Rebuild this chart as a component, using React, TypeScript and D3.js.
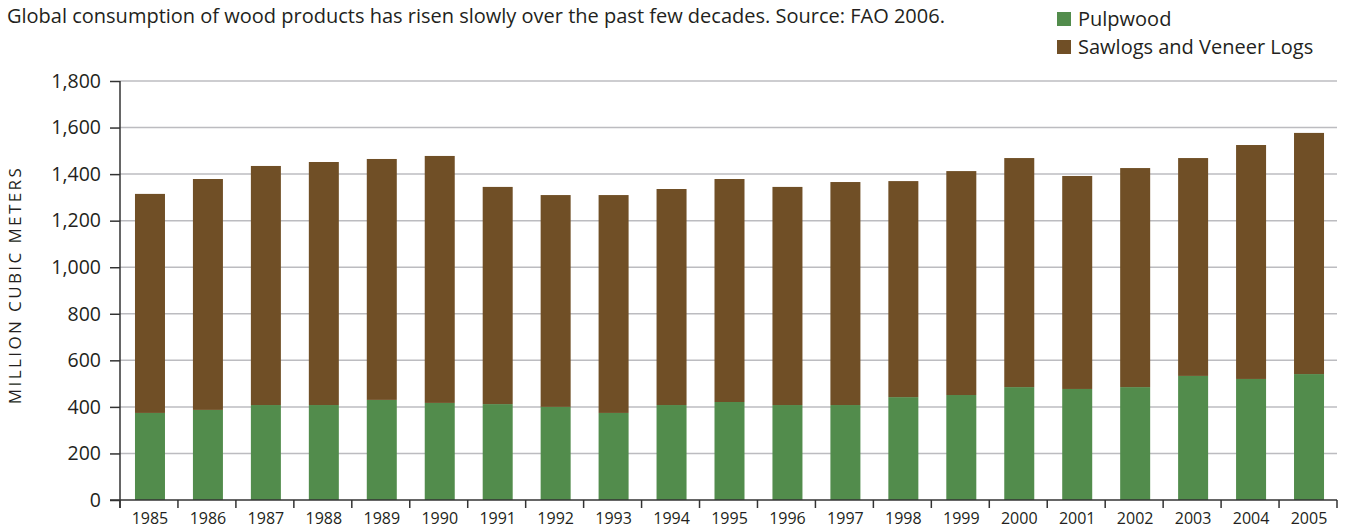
import React, { useEffect, useRef } from "react";
import * as d3 from "d3";

const years = [
  "1985", "1986", "1987", "1988", "1989", "1990", "1991", "1992", "1993", "1994", "1995",
  "1996", "1997", "1998", "1999", "2000", "2001", "2002", "2003", "2004", "2005",
];
const pulpwood = [374, 387, 408, 408, 430, 417, 412, 400, 374, 408, 421, 408, 408, 442, 451, 485, 477, 485, 533, 520, 541];
const sawlogs = [941, 992, 1027, 1044, 1035, 1061, 933, 910, 936, 928, 958, 937, 958, 928, 962, 984, 915, 941, 936, 1005, 1036];
const yTicks = [0, 200, 400, 600, 800, 1000, 1200, 1400, 1600, 1800];
const seriesNames = ["Pulpwood", "Sawlogs and Veneer Logs"];
const seriesColors = ["#528c4c", "#704f26"];

const FONT = "'Open Sans', 'Noto Sans', sans-serif";
const TEXT = "#231f20";

const App = () => {
  const chartRef = useRef<HTMLDivElement>(null);

  useEffect(() => {
    const W = 1346;
    const H = 529;
    const margin = { top: 81, right: 9, bottom: 29, left: 120 };
    const width = W - margin.left - margin.right;
    const height = H - margin.top - margin.bottom;

    d3.select(chartRef.current).selectAll("*").remove();
    const root = d3
      .select(chartRef.current)
      .append("svg")
      .attr("width", W)
      .attr("height", H)
      .style("font-family", FONT);

    // title
    root
      .append("text")
      .attr("x", 7)
      .attr("y", 23)
      .attr("font-size", 20)
      .attr("fill", TEXT)
      .text("Global consumption of wood products has risen slowly over the past few decades. Source: FAO 2006.");

    // legend
    const legend = root
      .selectAll(".legend")
      .data(seriesNames)
      .enter()
      .append("g")
      .attr("class", "legend")
      .attr("transform", (d, i) => `translate(1057, ${12 + i * 28})`);
    legend
      .append("rect")
      .attr("width", 14)
      .attr("height", 14)
      .style("fill", (d, i) => seriesColors[i]);
    legend
      .append("text")
      .attr("x", 21)
      .attr("y", 14)
      .attr("font-size", 20)
      .attr("fill", TEXT)
      .text((d) => d);

    const svg = root.append("g").attr("transform", `translate(${margin.left}, ${margin.top})`);

    const xScale = d3.scaleBand().domain(years).range([0, width]);
    const yScale = d3.scaleLinear().domain([0, 1800]).range([height, 0]);

    // grid
    svg
      .selectAll(".grid")
      .data(yTicks.filter((t) => t > 0))
      .enter()
      .append("line")
      .attr("class", "grid")
      .attr("x1", 0)
      .attr("x2", width)
      .attr("y1", (d) => yScale(d))
      .attr("y2", (d) => yScale(d))
      .style("stroke", "#bcbcc0")
      .style("stroke-width", 1.5);

    // stacked bars
    const table = years.map((y, i) => ({ year: y, pulp: pulpwood[i], saw: sawlogs[i] }));
    const stack = d3.stack<any>().keys(["pulp", "saw"])(table);
    const barW = 30;
    const off = (xScale.bandwidth() - barW) / 2 + 1;

    svg
      .selectAll(".layer")
      .data(stack)
      .enter()
      .append("g")
      .attr("class", "layer")
      .style("fill", (d, i) => seriesColors[i])
      .selectAll("rect")
      .data((d) => d)
      .enter()
      .append("rect")
      .attr("x", (d: any) => (xScale(d.data.year) as number) + off)
      .attr("y", (d) => yScale(d[1]))
      .attr("width", barW)
      .attr("height", (d) => yScale(d[0]) - yScale(d[1]));

    // y axis
    const yAxis = d3
      .axisLeft(yScale)
      .tickValues(yTicks)
      .tickSize(10)
      .tickPadding(9)
      .tickFormat((d) => d3.format(",")(d as number));
    const ya = svg.append("g").call(yAxis);
    ya.select(".domain").remove();
    ya.selectAll("line").style("stroke", "#333").style("stroke-width", 1.5);
    ya.selectAll("text")
      .attr("font-size", 19.5)
      .attr("font-family", FONT)
      .attr("fill", TEXT);
    svg
      .append("line")
      .attr("x1", 0)
      .attr("x2", 0)
      .attr("y1", 0)
      .attr("y2", height + 8)
      .style("stroke", "#333")
      .style("stroke-width", 1.5);

    // x axis
    const xa = svg.append("g").attr("transform", `translate(0, ${height})`);
    xa.append("line")
      .attr("x1", -10)
      .attr("x2", width)
      .style("stroke", "#333")
      .style("stroke-width", 1.5);
    xa.selectAll(".xtick")
      .data(years.concat(["end"]))
      .enter()
      .append("line")
      .attr("x1", (d, i) => i * xScale.step())
      .attr("x2", (d, i) => i * xScale.step())
      .attr("y1", 0)
      .attr("y2", 8)
      .style("stroke", "#333")
      .style("stroke-width", 1.5);
    xa.selectAll(".xlabel")
      .data(years)
      .enter()
      .append("text")
      .attr("x", (d) => (xScale(d) as number) + xScale.bandwidth() / 2 + 1)
      .attr("y", 24)
      .attr("text-anchor", "middle")
      .attr("font-size", 16)
      .attr("fill", TEXT)
      .text((d) => d);

    // y title
    root
      .append("text")
      .attr("transform", `translate(21, 285) rotate(-90)`)
      .attr("text-anchor", "middle")
      .attr("font-size", 17)
      .attr("letter-spacing", 2.4)
      .attr("fill", TEXT)
      .text("MILLION CUBIC METERS");
  }, []);

  return <div ref={chartRef} style={{ position: "absolute", left: 0, top: 0 }} />;
};

export default App;
